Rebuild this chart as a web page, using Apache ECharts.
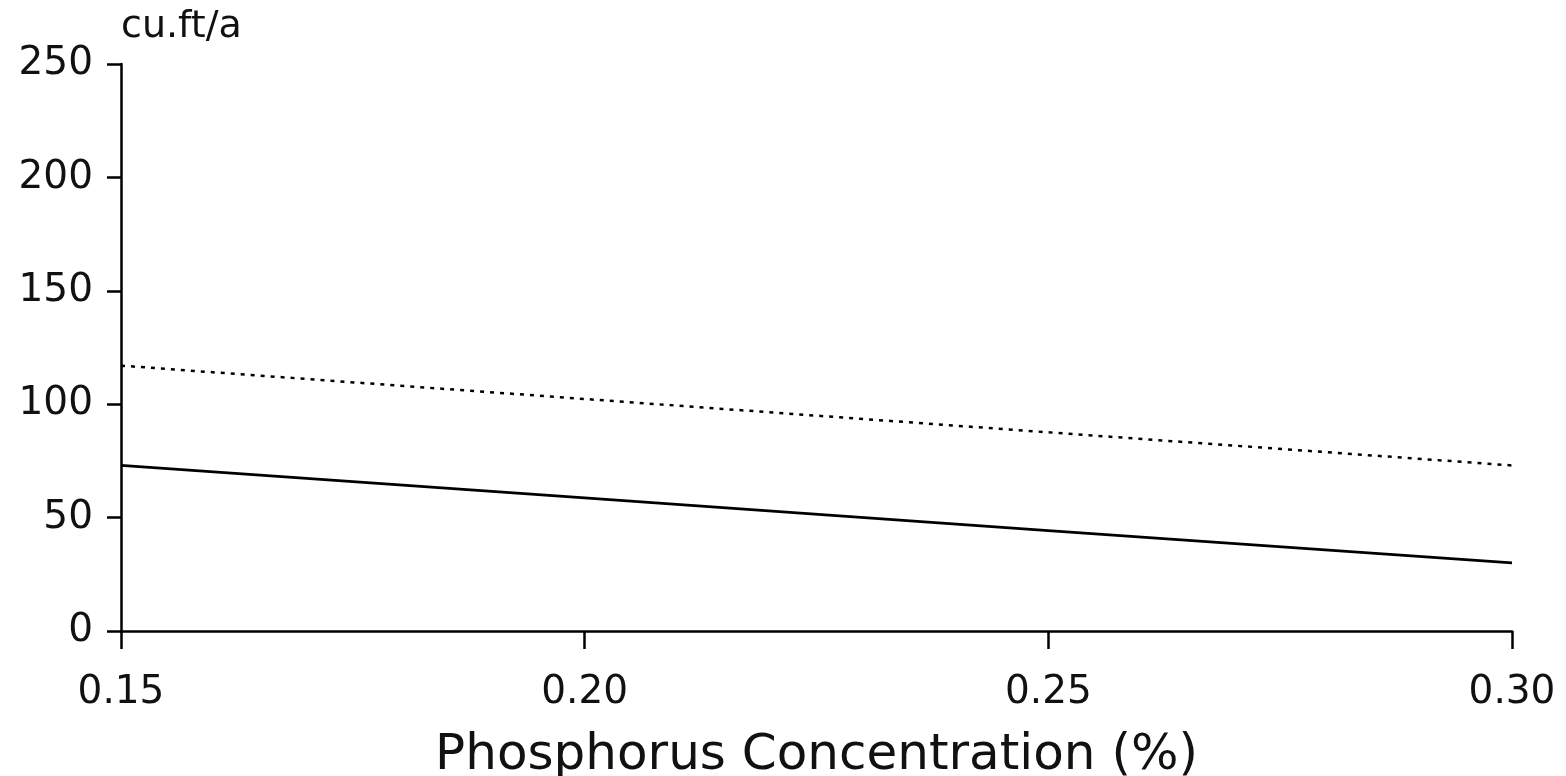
<!DOCTYPE html>
<html><head><meta charset="utf-8">
<script src="https://cdn.jsdelivr.net/npm/echarts@6/dist/echarts.min.js"></script>
<style>html,body{margin:0;padding:0;background:#fff}#c{width:1566px;height:776px}</style>
</head><body><div id="c"></div>
<script>
const xValues = [0.15, 0.20, 0.25, 0.30];
const solidSeries = [73, 58.7, 44.3, 30];
const dottedSeries = [117, 102.3, 87.6, 73];
const yTicks = [0, 50, 100, 150, 200, 250];
const xTickLabels = ['0.15', '0.20', '0.25', '0.30'];

const chart = echarts.init(document.getElementById('c'));
const font = 'DejaVu Sans';
chart.setOption({
  animation: false,
  backgroundColor: '#fff',
  grid: {left: 121, right: 54, top: 64, bottom: 145, containLabel: false, outerBoundsMode: 'none'},
  xAxis: {
    type: 'value', min: 0.15, max: 0.30, interval: 0.05,
    axisLine: {lineStyle: {color: '#000', width: 2.5}},
    axisTick: {show: true, length: 18, inside: false, lineStyle: {color: '#000', width: 2.5}},
    splitLine: {show: false},
    axisLabel: {color: '#111', fontFamily: font, fontSize: 39, margin: 42,
      formatter: v => { const i = xValues.findIndex(x => Math.abs(x - v) < 1e-6); return i >= 0 ? xTickLabels[i] : ''; }},
    name: 'Phosphorus Concentration (%)', nameLocation: 'middle', nameGap: 100,
    nameTextStyle: {color: '#111', fontFamily: font, fontSize: 50}
  },
  yAxis: {
    type: 'value', min: 0, max: 250, interval: 50,
    axisLine: {show: true, lineStyle: {color: '#000', width: 2.5}},
    axisTick: {show: true, length: 14, lineStyle: {color: '#000', width: 2.5}},
    splitLine: {show: false},
    axisLabel: {color: '#111', fontFamily: font, fontSize: 39, margin: 28,
      formatter: v => yTicks.includes(v) ? String(v) : ''},
    name: 'cu.ft/a', nameLocation: 'end', nameGap: 18,
    nameTextStyle: {color: '#111', fontFamily: font, fontSize: 38, align: 'left', padding: [0, 0, 0, 0]}
  },
  series: [
    {type: 'line', data: xValues.map((x, i) => [x, solidSeries[i]]), symbol: 'none',
     lineStyle: {color: '#000', width: 2.8, type: 'solid'}},
    {type: 'line', data: xValues.map((x, i) => [x, dottedSeries[i]]), symbol: 'none',
     lineStyle: {color: '#000', width: 2.5, type: [4, 6]}}
  ]
});
</script></body></html>
